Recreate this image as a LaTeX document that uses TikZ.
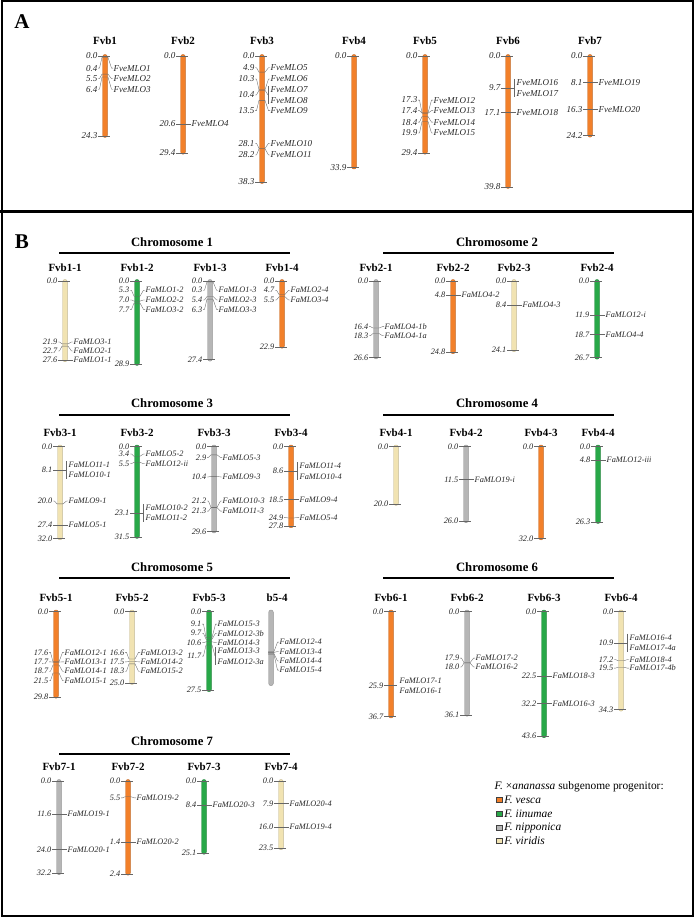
\documentclass[tikz,border=0pt]{standalone}
\usepackage{fontspec}
\setmainfont{Liberation Serif}
\usepackage{xcolor}
\definecolor{vesca}{RGB}{242,128,42}
\definecolor{iinumae}{RGB}{40,168,72}
\definecolor{nipponica}{RGB}{182,182,182}
\definecolor{viridis}{RGB}{241,227,178}
\usetikzlibrary{positioning}

% row of chromosomes: top y, px per cM, label offset
\newcommand{\setrow}[3]{\def\ct{#1}\def\cs{#2}\def\lo{#3}}
% chromosome: id, label, x, length, colour, top text, end text
\newcommand{\chrom}[7]{%
  \def\cx{#3}%
  \node[chrname] (t-#1) at (#3,{\ct-\lo}) {#2};
  \draw[bar,fill=#5,draw=#5!80!black] ({#3-2.3},{\ct-1.5}) rectangle ({#3+2.3},{\ct+#4*\cs+1.5});
  \def\tmp{#6}\ifx\tmp\empty\else
    \node[num] (s-#1) at ({#3-7},\ct) {#6};
    \draw[tick] (s-#1.east) -- ({#3+5},\ct);
  \fi
  \def\tmp{#7}\ifx\tmp\empty\else
    \node[num] (e-#1) at ({#3-7},{\ct+#4*\cs}) {#7};
    \draw[tick] (e-#1.east) -- ({#3+5},{\ct+#4*\cs});
  \fi
}
% marker: [text], position, label position, gene
\newcommand{\mk}[4][]{%
  \def\numtxt{#1}\ifx\numtxt\empty\def\numtxt{#2}\fi
  \coordinate (a-#4) at (\cx,{\ct+#2*\cs});
  \node[num] (n-#4) at ({\cx-7},{\ct+#3*\cs}) {\numtxt};
  \node[gene] (g-#4) at ({\cx+8},{\ct+#3*\cs}) {#4};
  \draw[tick] (n-#4.east) -- ++(1.5,0) -- ([xshift=-3pt]a-#4) -- ([xshift=3pt]a-#4)
    -- ([xshift=-1.5pt]g-#4.west) -- (g-#4.west);
}
% two genes at one position, with bracket
\newcommand{\mkb}[5][]{%
  \coordinate (a-#4) at (\cx,{\ct+#2*\cs});
  \coordinate (b-#4) at ({\cx+6},{\ct+#3*\cs});
  \node[num] (n-#4) at ({\cx-7},{\ct+#3*\cs}) {#2};
  \node[gene] (g-#4) at ([xshift=2pt,yshift=5.2pt]b-#4) {#4};
  \node[gene] (g-#5) at ([xshift=2pt,yshift=-5.2pt]b-#4) {#5};
  \draw[tick] (n-#4.east) -- ++(1.5,0) -- ([xshift=-3pt]a-#4) -- ([xshift=3pt]a-#4) -- (b-#4);
  \draw[tick,#1] ([yshift=9pt]b-#4) -- ([yshift=-9pt]b-#4);
}
% gene only on the right
\newcommand{\mkr}[3]{%
  \coordinate (a-#3) at (\cx,{\ct+#1*\cs});
  \node[gene] (g-#3) at ({\cx+8},{\ct+#2*\cs}) {#3};
  \draw[tick] ([xshift=-3pt]a-#3) -- ([xshift=3pt]a-#3) -- ([xshift=-1.5pt]g-#3.west) -- (g-#3.west);
}

\begin{document}
\begin{tikzpicture}[x=1pt,y=-1pt,
    chrname/.style={font=\bfseries\fontsize{11}{12}\selectfont, inner sep=0.5pt},
    num/.style={anchor=east, font=\itshape\fontsize{8.3}{9}\selectfont, inner sep=0.5pt, text=black!85},
    gene/.style={anchor=west, font=\itshape\fontsize{8.3}{9}\selectfont, inner sep=0.5pt, text=black!85},
    tick/.style={draw=black!60, line width=0.35pt},
    bar/.style={line width=0.4pt, rounded corners=2.2pt},
    chead/.style={font=\bfseries\fontsize{12.7}{14}\selectfont},
    hline/.style={line width=1.6pt},
    panel/.style={font=\bfseries\fontsize{21}{22}\selectfont},
    legbox/.style={draw=black!75, line width=0.5pt, minimum width=6pt, minimum height=5pt, inner sep=0pt},
    legtext/.style={font=\fontsize{11.4}{13}\selectfont, anchor=west, inner sep=0.5pt}
  ]
  \useasboundingbox (0,0) rectangle (694,917);
  \draw[line width=2pt] (1.5,1.5) rectangle (692.5,915.5);
  \draw[line width=3pt] (0,211.5) -- (694,211.5);

  %% panel A
  \node[panel] (pA) at (22,22) {A};
  \begin{scope}[num/.append style={font=\itshape\fontsize{9}{10}\selectfont},
                gene/.append style={font=\itshape\fontsize{9}{10}\selectfont}]
    \setrow{56}{3.29}{15}
    \chrom{Fvb1}{Fvb1}{105}{24.3}{vesca}{0.0}{24.3}
    \mk{0.4}{3.7}{FveMLO1}
    \mk{5.5}{6.9}{FveMLO2}
    \mk{6.4}{10.1}{FveMLO3}
    \chrom{Fvb2}{Fvb2}{183}{29.4}{vesca}{0.0}{29.4}
    \mk{20.6}{20.6}{FveMLO4}
    \chrom{Fvb3}{Fvb3}{262}{38.3}{vesca}{0.0}{38.3}
    \mk{4.9}{3.56}{FveMLO5}
    \mk{10.3}{6.99}{FveMLO6}
    \mkb{10.4}{11.85}{FveMLO7}{FveMLO8}
    \mk{13.5}{16.6}{FveMLO9}
    \mk{28.1}{26.5}{FveMLO10}
    \mk{28.2}{30.1}{FveMLO11}
    \chrom{Fvb4}{Fvb4}{354}{33.9}{vesca}{0.0}{33.9}
    \chrom{Fvb5}{Fvb5}{425}{29.4}{vesca}{0.0}{29.4}
    \mk{17.3}{13.4}{FveMLO12}
    \mk{17.4}{16.6}{FveMLO13}
    \mk{18.4}{20.1}{FveMLO14}
    \mk{19.9}{23.4}{FveMLO15}
    \chrom{Fvb6}{Fvb6}{508}{39.8}{vesca}{0.0}{39.8}
    \mkb{9.7}{9.7}{FveMLO16}{FveMLO17}
    \mk{17.1}{17.1}{FveMLO18}
    \chrom{Fvb7}{Fvb7}{590}{24.2}{vesca}{0.0}{24.2}
    \mk{8.1}{8.1}{FveMLO19}
    \mk{16.3}{16.3}{FveMLO20}
  \end{scope}

  %% panel B
  \node[panel] (pB) at (22,242) {B};
  \node[chead] (h1) at (172,242) {Chromosome 1};
  \draw[hline] (59,253) -- (290,253);
  \node[chead] (h2) at (497,242) {Chromosome 2};
  \draw[hline] (383,253) -- (614,253);
  \node[chead] (h3) at (172,403) {Chromosome 3};
  \draw[hline] (59,415) -- (290,415);
  \node[chead] (h4) at (497,403) {Chromosome 4};
  \draw[hline] (383,415) -- (614,415);
  \node[chead] (h5) at (172,567) {Chromosome 5};
  \draw[hline] (59,578) -- (290,578);
  \node[chead] (h6) at (497,567) {Chromosome 6};
  \draw[hline] (383,578) -- (614,578);
  \node[chead] (h7) at (172,741) {Chromosome 7};
  \draw[hline] (59,754) -- (290,754);

  % chromosomes 1 and 2
  \setrow{281}{2.87}{13.5}
  \chrom{Fvb1-1}{Fvb1-1}{65}{27.6}{viridis}{0.0}{}
  \mk{21.9}{21.25}{FaMLO3-1}
  \mk{22.7}{24.4}{FaMLO2-1}
  \mk{27.6}{27.6}{FaMLO1-1}
  \chrom{Fvb1-2}{Fvb1-2}{137}{28.9}{iinumae}{0.0}{28.9}
  \mk{5.3}{3.2}{FaMLO1-2}
  \mk{7.0}{6.6}{FaMLO2-2}
  \mk{7.7}{9.9}{FaMLO3-2}
  \chrom{Fvb1-3}{Fvb1-3}{210}{27.4}{nipponica}{0.0}{27.4}
  \mk{0.3}{3.2}{FaMLO1-3}
  \mk{5.4}{6.6}{FaMLO2-3}
  \mk{6.3}{9.9}{FaMLO3-3}
  \chrom{Fvb1-4}{Fvb1-4}{282}{22.9}{vesca}{0.0}{22.9}
  \mk{4.7}{3.2}{FaMLO2-4}
  \mk{5.5}{6.6}{FaMLO3-4}
  \chrom{Fvb2-1}{Fvb2-1}{376}{26.6}{nipponica}{0.0}{26.6}
  \mk{16.4}{15.9}{FaMLO4-1b}
  \mk{18.3}{19.05}{FaMLO4-1a}
  \chrom{Fvb2-2}{Fvb2-2}{453}{24.8}{vesca}{0.0}{24.8}
  \mk{4.8}{4.8}{FaMLO4-2}
  \chrom{Fvb2-3}{Fvb2-3}{514}{24.1}{viridis}{0.0}{24.1}
  \mk{8.4}{8.4}{FaMLO4-3}
  \chrom{Fvb2-4}{Fvb2-4}{597}{26.7}{iinumae}{0.0}{26.7}
  \mk{11.9}{11.9}{FaMLO12-i}
  \mk{18.7}{18.7}{FaMLO4-4}

  % chromosomes 3 and 4
  \setrow{446.5}{2.87}{13.5}
  \chrom{Fvb3-1}{Fvb3-1}{60}{32.0}{viridis}{0.0}{32.0}
  \mkb{8.1}{8.1}{FaMLO11-1}{FaMLO10-1}
  \mk{20.0}{19.0}{FaMLO9-1}
  \mk{27.4}{27.4}{FaMLO5-1}
  \chrom{Fvb3-2}{Fvb3-2}{137}{31.5}{iinumae}{0.0}{31.5}
  \mk{3.4}{2.6}{FaMLO5-2}
  \mk{5.5}{6.0}{FaMLO12-ii}
  \mkb{23.1}{23.1}{FaMLO10-2}{FaMLO11-2}
  \chrom{Fvb3-3}{Fvb3-3}{214}{29.6}{nipponica}{0.0}{29.6}
  \mk{2.9}{3.8}{FaMLO5-3}
  \mk{10.4}{10.6}{FaMLO9-3}
  \mk{21.2}{19.0}{FaMLO10-3}
  \mk{21.3}{22.5}{FaMLO11-3}
  \chrom{Fvb3-4}{Fvb3-4}{291}{27.8}{vesca}{0.0}{27.8}
  \mkb{8.6}{8.6}{FaMLO11-4}{FaMLO10-4}
  \mk{18.5}{18.5}{FaMLO9-4}
  \mk{24.9}{24.7}{FaMLO5-4}
  \chrom{Fvb4-1}{Fvb4-1}{396}{20.0}{viridis}{0.0}{20.0}
  \chrom{Fvb4-2}{Fvb4-2}{466}{26.0}{nipponica}{0.0}{26.0}
  \mk{11.5}{11.5}{FaMLO19-i}
  \chrom{Fvb4-3}{Fvb4-3}{541}{32.0}{vesca}{0.0}{32.0}
  \chrom{Fvb4-4}{Fvb4-4}{598}{26.3}{iinumae}{0.0}{26.3}
  \mk{4.8}{4.8}{FaMLO12-iii}

  % chromosomes 5 and 6
  \setrow{611.5}{2.86}{13.5}
  \chrom{Fvb5-1}{Fvb5-1}{56}{29.8}{vesca}{0.0}{29.8}
  \mk{17.6}{14.3}{FaMLO12-1}
  \mk{17.7}{17.6}{FaMLO13-1}
  \mk{18.7}{20.9}{FaMLO14-1}
  \mk{21.5}{24.2}{FaMLO15-1}
  \chrom{Fvb5-2}{Fvb5-2}{132}{25.0}{viridis}{0.0}{25.0}
  \mk{16.6}{14.3}{FaMLO13-2}
  \mk{17.5}{17.6}{FaMLO14-2}
  \mk{18.3}{20.9}{FaMLO15-2}
  \chrom{Fvb5-3}{Fvb5-3}{209}{27.5}{iinumae}{0.0}{27.5}
  \mk{9.1}{4.4}{FaMLO15-3}
  \mk{9.7}{7.6}{FaMLO12-3b}
  \mk{10.6}{10.9}{FaMLO14-3}
  \mkb{11.7}{15.6}{FaMLO13-3}{FaMLO12-3a}
  \chrom{Fvb5-4}{\phantom{Fv}b5-4}{271}{25.4}{nipponica}{}{}
  \mkr{14.0}{10.7}{FaMLO12-4}
  \mkr{14.3}{14.0}{FaMLO13-4}
  \mkr{14.7}{17.3}{FaMLO14-4}
  \mkr{15.1}{20.5}{FaMLO15-4}
  \chrom{Fvb6-1}{Fvb6-1}{391}{36.7}{vesca}{0.0}{36.7}
  \mkb[draw=none]{25.9}{25.9}{FaMLO17-1}{FaMLO16-1}
  \chrom{Fvb6-2}{Fvb6-2}{467}{36.1}{nipponica}{0.0}{36.1}
  \mk{17.9}{16.3}{FaMLO17-2}
  \mk{18.0}{19.4}{FaMLO16-2}
  \chrom{Fvb6-3}{Fvb6-3}{544}{43.6}{iinumae}{0.0}{43.6}
  \mk{22.5}{22.5}{FaMLO18-3}
  \mk{32.2}{32.2}{FaMLO16-3}
  \chrom{Fvb6-4}{Fvb6-4}{621}{34.3}{viridis}{0.0}{34.3}
  \mkb{10.9}{10.9}{FaMLO16-4}{FaMLO17-4a}
  \mk{17.2}{16.8}{FaMLO18-4}
  \mk{19.5}{19.8}{FaMLO17-4b}

  % chromosome 7
  \setrow{781}{2.86}{14}
  \chrom{Fvb7-1}{Fvb7-1}{59}{32.2}{nipponica}{0.0}{32.2}
  \mk{11.6}{11.6}{FaMLO19-1}
  \mk{24.0}{24.0}{FaMLO20-1}
  \chrom{Fvb7-2}{Fvb7-2}{128}{32.4}{vesca}{0.0}{2.4}
  \mk{5.5}{5.9}{FaMLO19-2}
  \mk[1.4]{21.4}{21.4}{FaMLO20-2}
  \chrom{Fvb7-3}{Fvb7-3}{204}{25.1}{iinumae}{0.0}{25.1}
  \mk{8.4}{8.4}{FaMLO20-3}
  \chrom{Fvb7-4}{Fvb7-4}{281}{23.5}{viridis}{0.0}{23.5}
  \mk{7.9}{7.9}{FaMLO20-4}
  \mk{16.0}{16.0}{FaMLO19-4}

  % legend
  \node[legtext] (legt) at (494,787) {\textit{F.}~×\textit{ananassa} subgenome progenitor:};
  \node[legbox, fill=vesca] (lk1) at (499,800) {};
  \node[legtext, right=1.5pt of lk1] (lt1) {\textit{F. vesca}};
  \node[legbox, fill=iinumae] (lk2) at (499,814) {};
  \node[legtext, right=1.5pt of lk2] (lt2) {\textit{F. iinumae}};
  \node[legbox, fill=nipponica] (lk3) at (499,827.5) {};
  \node[legtext, right=1.5pt of lk3] (lt3) {\textit{F. nipponica}};
  \node[legbox, fill=viridis] (lk4) at (499,841) {};
  \node[legtext, right=1.5pt of lk4] (lt4) {\textit{F. viridis}};
\end{tikzpicture}
\end{document}
